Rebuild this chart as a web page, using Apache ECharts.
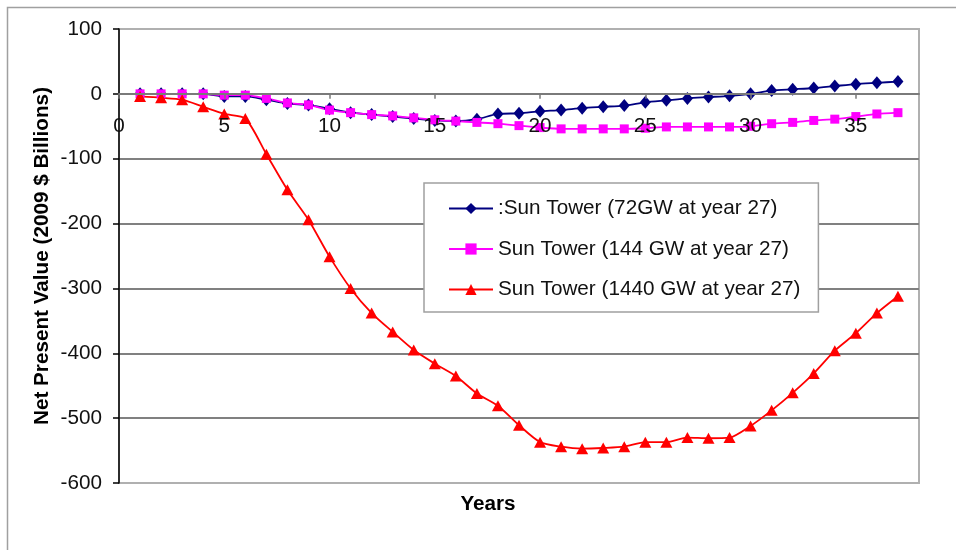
<!DOCTYPE html>
<html>
<head>
<meta charset="utf-8">
<script src="https://cdn.jsdelivr.net/npm/echarts@6/dist/echarts.min.js"></script>
<style>
html,body{margin:0;padding:0;background:#fff;}
#c{width:956px;height:550px;}
</style>
</head>
<body>
<div id="c"></div>
<script>
const years = [1,2,3,4,5,6,7,8,9,10,11,12,13,14,15,16,17,18,19,20,21,22,23,24,25,26,27,28,29,30,31,32,33,34,35,36,37];
const names = [':Sun Tower (72GW at year 27)', 'Sun Tower (144 GW at year 27)', 'Sun Tower (1440 GW at year 27)'];
const npv72 = [0,0,0,0,-4,-4,-9,-15,-17,-23,-29,-32,-35,-38,-41,-42,-39,-31,-30,-27,-25,-22,-20,-18,-13,-10,-7,-5,-3,0,5,7,9,12,15,17,19];
const npv144 = [0,0,0,0,-2,-2,-7,-14,-17,-25,-29,-32,-34,-37,-40,-42,-44,-46,-49,-52,-54,-54,-54,-54,-53,-51,-51,-51,-51,-50,-46,-44,-41,-39,-35,-31,-29];
const npv1440 = [-4,-6,-9,-20,-31,-38,-93,-148,-194,-251,-300,-338,-367,-395,-416,-435,-462,-481,-511,-537,-544,-547,-546,-544,-537,-537,-530,-531,-530,-512,-488,-461,-431,-396,-369,-338,-312];
const xTicks = {min: 0, max: 38, step: 5};
const yTicks = {min: -600, max: 100, step: 100};

const FONT = '"Liberation Sans", Arial, sans-serif';
const FS = 20.7;
function pairs(vals){ return years.map((y,i)=>[y, vals[i]]); }

const W = 956, H = 550;
const G = {left: 119, top: 29, right: 37, bottom: 67};
const plotH = H - G.top - G.bottom;
// shift the x axis up from the bottom edge to the zero line
const zeroOffset = -(0 - yTicks.min) / (yTicks.max - yTicks.min) * plotH;

const chart = echarts.init(document.getElementById('c'), null, {renderer:'canvas'});
chart.setOption({
  animation: false,
  backgroundColor: '#fff',
  textStyle: {fontFamily: FONT},
  grid: Object.assign({show: true, borderColor: '#b0b0b0', borderWidth: 2, backgroundColor: 'transparent'}, G),
  xAxis: {
    type: 'value', min: xTicks.min, max: xTicks.max, interval: xTicks.step,
    position: 'bottom', offset: zeroOffset,
    axisLine: {onZero: false, lineStyle: {color: '#7a7a7a', width: 1.8}},
    axisTick: {show: true, length: 5, lineStyle: {color: '#7a7a7a', width: 1.5}},
    axisLabel: {showMaxLabel: false, margin: 22, fontSize: FS, color: '#111', fontFamily: FONT},
    splitLine: {show: false},
    z: 5
  },
  yAxis: {
    type: 'value', min: yTicks.min, max: yTicks.max, interval: yTicks.step,
    name: 'Net Present Value (2009 $ Billions)', nameLocation: 'middle', nameGap: 66, nameMoveOverlap: false,
    nameTextStyle: {fontSize: FS, fontWeight: 'bold', color: '#000', fontFamily: FONT},
    axisLine: {show: true, lineStyle: {color: '#000', width: 1.5}},
    axisTick: {show: true, length: 6, lineStyle: {color: '#000', width: 1.5}},
    axisLabel: {margin: 17, fontSize: FS, color: '#111', fontFamily: FONT},
    splitLine: {show: true, showMinLine: false, showMaxLine: false, lineStyle: {color: '#808080', width: 1.8}}
  },
  legend: {
    orient: 'vertical', left: 424, top: 183,
    padding: [15, 18, 12, 24],
    itemWidth: 44, itemHeight: 14, itemGap: 19.5,
    backgroundColor: '#fff', borderColor: '#a0a0a0', borderWidth: 1.5,
    textStyle: {fontSize: FS, color: '#111', fontFamily: FONT, lineHeight: 20},
    data: names
  },
  graphic: [
    {type: 'rect', z: -10, shape: {x: 7.5, y: 7.5, width: 1000, height: 1000}, style: {fill: 'none', stroke: '#a0a0a0', lineWidth: 1.5}, silent: true},
    {type: 'text', x: 488, y: 504, style: {text: 'Years', font: 'bold ' + FS + 'px ' + FONT, fill: '#000', align: 'center', verticalAlign: 'middle'}}
  ],
  series: [
    {name: names[0], type: 'line', data: pairs(npv72), smooth: 0.25, symbol: 'diamond', symbolSize: [11, 13],
     itemStyle: {color: '#000080'}, lineStyle: {color: '#000080', width: 1.8}},
    {name: names[1], type: 'line', data: pairs(npv144), smooth: 0.25, symbol: 'rect', symbolSize: 9,
     itemStyle: {color: '#ff00ff'}, lineStyle: {color: '#ff00ff', width: 1.8}},
    {name: names[2], type: 'line', data: pairs(npv1440), smooth: 0.25, symbol: 'triangle', symbolSize: [12, 11],
     itemStyle: {color: '#ff0000'}, lineStyle: {color: '#ff0000', width: 1.8}}
  ]
});
</script>
</body>
</html>
